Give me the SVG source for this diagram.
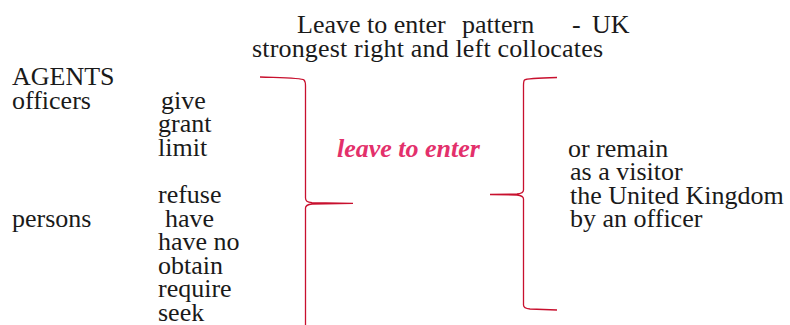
<svg xmlns="http://www.w3.org/2000/svg" width="790" height="325" viewBox="0 0 790 325">
<style>
.bracket-line{fill:none;stroke:#c8102e;stroke-width:1.3}
</style>
<rect width="790" height="325" fill="#fff"/>
<g id="title">
<text y="32.5" font-family="Liberation Serif" font-size="26" fill="#1a1a1a"><tspan x="297">Leave to enter</tspan><tspan x="462">pattern</tspan><tspan x="572">-</tspan><tspan x="592">UK</tspan></text>
<text x="252" y="56.5" font-family="Liberation Serif" font-size="26" fill="#1a1a1a" textLength="351" lengthAdjust="spacing">strongest right and left collocates</text>
</g>
<g id="agents">
<text x="12" y="85" font-family="Liberation Serif" font-size="26" fill="#1a1a1a">AGENTS</text>
<text x="12" y="108.5" font-family="Liberation Serif" font-size="26" fill="#1a1a1a">officers</text>
<text x="12" y="226.5" font-family="Liberation Serif" font-size="26" fill="#1a1a1a">persons</text>
</g>
<g id="left-collocates">
<text x="161" y="108.5" font-family="Liberation Serif" font-size="26" fill="#1a1a1a">give</text>
<text x="158" y="132" font-family="Liberation Serif" font-size="26" fill="#1a1a1a">grant</text>
<text x="158" y="155.5" font-family="Liberation Serif" font-size="26" fill="#1a1a1a">limit</text>
<text x="158" y="203" font-family="Liberation Serif" font-size="26" fill="#1a1a1a">refuse</text>
<text x="165" y="226.5" font-family="Liberation Serif" font-size="26" fill="#1a1a1a">have</text>
<text x="158" y="250" font-family="Liberation Serif" font-size="26" fill="#1a1a1a">have no</text>
<text x="158" y="273.5" font-family="Liberation Serif" font-size="26" fill="#1a1a1a">obtain</text>
<text x="158" y="297" font-family="Liberation Serif" font-size="26" fill="#1a1a1a">require</text>
<text x="158" y="320.5" font-family="Liberation Serif" font-size="26" fill="#1a1a1a">seek</text>
</g>
<g id="node-word">
<text x="337" y="157" font-family="Liberation Serif" font-size="26" font-weight="bold" font-style="italic" fill="#e3306b">leave to enter</text>
</g>
<g id="right-collocates">
<text x="568" y="156.5" font-family="Liberation Serif" font-size="26" fill="#1a1a1a">or remain</text>
<text x="570" y="180" font-family="Liberation Serif" font-size="26" fill="#1a1a1a">as a visitor</text>
<text x="570" y="203.5" font-family="Liberation Serif" font-size="26" fill="#1a1a1a">the United Kingdom</text>
<text x="570" y="227" font-family="Liberation Serif" font-size="26" fill="#1a1a1a">by an officer</text>
</g>
<g id="connectors">
<path class="bracket-line" d="M260,77 C290,78 302,78 304,80 C305.5,81.5 305.5,83 305.5,86 L305.5,198 C305.5,201 307,202 312,202.6 L353,203.3 L312,204 C307,204.6 305.5,205.6 305.5,208 L305.5,325"/>
<path class="bracket-line" d="M557,77.5 C535,78 526,78.5 524.5,80 C523.5,81 523.5,83 523.5,86 L523.5,190 C523.5,192.5 522,193.5 517,194 L490,194.5 L517,195 C522,195.5 523.5,196.5 523.5,199 L523.5,305 C523.5,307.5 525,308.5 530,309 L557,310"/>
</g>
</svg>
